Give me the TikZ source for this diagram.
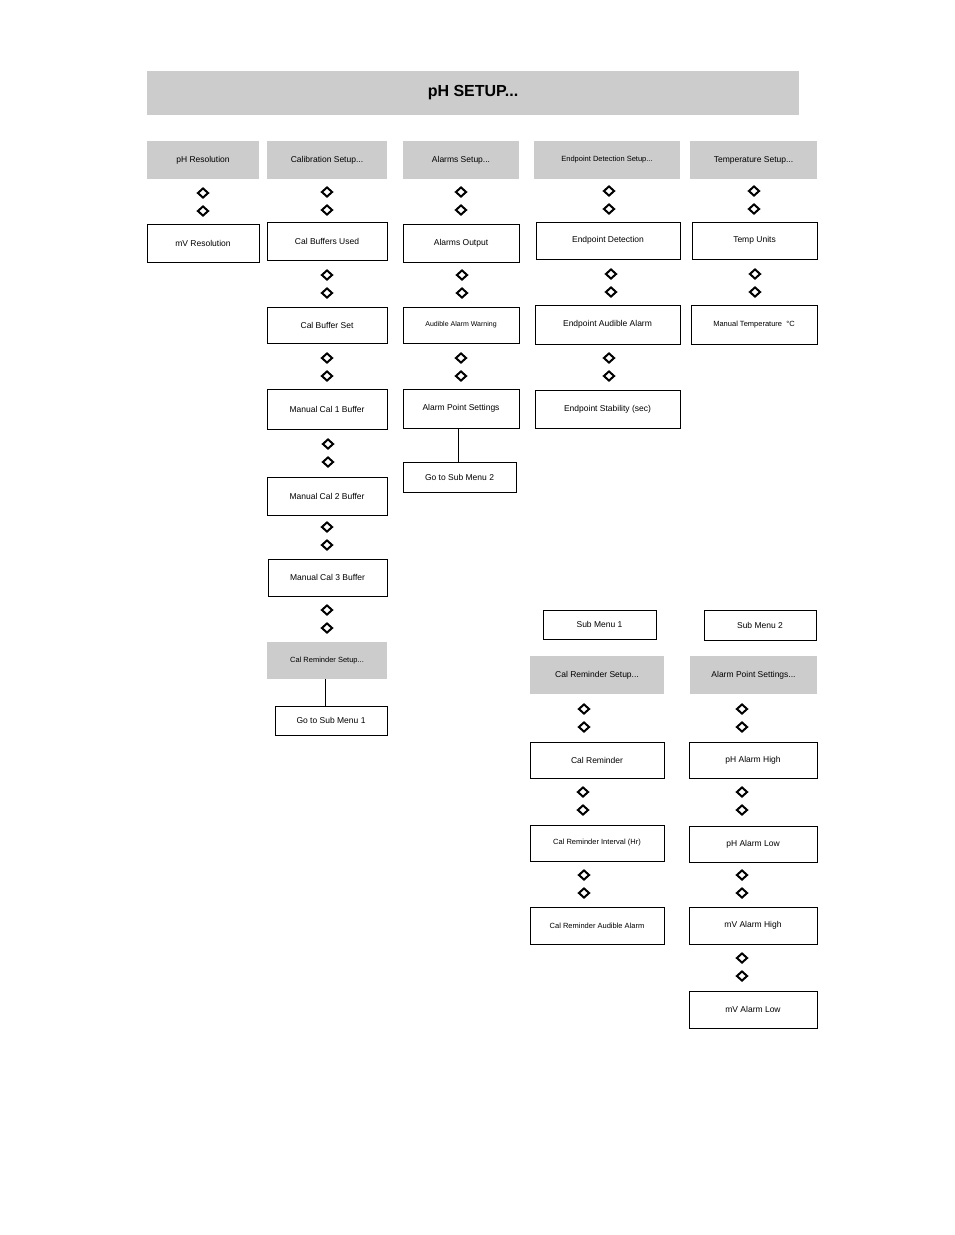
\documentclass[tikz,border=0pt]{standalone}
\usepackage{fontspec}
\setmainfont{Liberation Sans}
\usetikzlibrary{shapes.geometric}
\begin{document}
\begin{tikzpicture}[x=1pt,y=-1pt,
  bx/.style={draw=black,line width=0.8pt,font=\fontsize{8.5}{10}\selectfont,inner sep=0pt},
  gb/.style={fill=black!20,font=\fontsize{8.5}{10}\selectfont,inner sep=0pt},
  dia/.style={diamond,draw=black,line width=2pt,minimum width=11pt,minimum height=10pt,inner sep=0pt,aspect=1.2},
  ln/.style={draw=black,line width=0.8pt}]
\useasboundingbox (0,0) rectangle (954,1235);
\newcommand{\mybox}[7]{\node[#1,minimum width=#4-#2,minimum height=#5-#3] (#6) at ({(#2+#4)/2},{(#3+#5)/2}) {#7};}
\newcommand{\ud}[3]{\node[dia] (#3a) at (#1,#2-9) {}; \node[dia] (#3b) at (#1,#2+9) {};}
\node[fill=black!20,minimum width=652,minimum height=44,font=\bfseries\fontsize{16}{18}\selectfont] (hdr) at (473,93) {pH SETUP...};
\mybox{gb}{147}{141}{259}{179}{a1}{pH Resolution}
\mybox{gb}{267}{141}{387}{179}{b1}{Calibration Setup...}
\mybox{gb}{403}{141}{519}{179}{c1}{Alarms Setup...}
\mybox{gb}{534}{141}{680}{179}{d1}{\fontsize{7.5}{9}\selectfont Endpoint Detection Setup...}
\mybox{gb}{690}{141}{817}{179}{e1}{Temperature Setup...}
\mybox{bx}{147}{224}{259}{262}{a2}{mV Resolution}
\mybox{bx}{267}{222}{387}{260}{b2}{Cal Buffers Used}
\mybox{bx}{403}{224}{519}{262}{c2}{Alarms Output}
\mybox{bx}{536}{222}{680}{259}{d2}{Endpoint Detection}
\mybox{bx}{692}{222}{817}{259}{e2}{Temp Units}
\mybox{bx}{267}{307}{387}{343}{b3}{Cal Buffer Set}
\mybox{bx}{403}{307}{519}{343}{c3}{\fontsize{7}{9}\selectfont Audible Alarm Warning}
\mybox{bx}{535}{305}{680}{344}{d3}{Endpoint Audible Alarm}
\mybox{bx}{691}{305}{817}{344}{e3}{\fontsize{7.5}{9}\selectfont Manual Temperature \ °C}
\mybox{bx}{267}{389}{387}{429}{b4}{Manual Cal 1 Buffer}
\mybox{bx}{403}{389}{519}{428}{c4}{Alarm Point Settings}
\mybox{bx}{535}{390}{680}{428}{d4}{Endpoint Stability (sec)}
\mybox{bx}{403}{462}{516}{492}{c5}{Go to Sub Menu 2}
\mybox{bx}{267}{477}{387}{515}{b5}{Manual Cal 2 Buffer}
\mybox{bx}{268}{559}{387}{596}{b6}{Manual Cal 3 Buffer}
\mybox{gb}{267}{642}{387}{679}{b7}{\fontsize{7.5}{9}\selectfont Cal Reminder Setup...}
\mybox{bx}{275}{706}{387}{735}{b8}{Go to Sub Menu 1}
\mybox{bx}{543}{610}{656}{639}{s1}{Sub Menu 1}
\mybox{bx}{704}{610}{816}{640}{s2}{Sub Menu 2}
\mybox{gb}{530}{656}{664}{694}{f1}{Cal Reminder Setup...}
\mybox{gb}{690}{656}{817}{694}{g1}{Alarm Point Settings...}
\mybox{bx}{530}{742}{664}{778}{f2}{Cal Reminder}
\mybox{bx}{689}{742}{817}{778}{g2}{pH Alarm High}
\mybox{bx}{530}{825}{664}{861}{f3}{\fontsize{7.5}{9}\selectfont Cal Reminder Interval (Hr)}
\mybox{bx}{689}{826}{817}{862}{g3}{pH Alarm Low}
\mybox{bx}{530}{907}{664}{944}{f4}{\fontsize{7.5}{9}\selectfont Cal Reminder Audible Alarm}
\mybox{bx}{689}{907}{817}{944}{g4}{mV Alarm High}
\mybox{bx}{689}{991}{817}{1028}{g5}{mV Alarm Low}
\draw[ln] (c4.south -| 458,0) -- (c5.north -| 458,0);
\draw[ln] (b7.south -| 325,0) -- (b8.north -| 325,0);
\ud{203}{202}{u1}
\ud{327}{201}{u2}\ud{327}{284}{u3}\ud{327}{367}{u4}\ud{328}{453}{u5}\ud{327}{536}{u6}\ud{327}{619}{u7}
\ud{461}{201}{u8}\ud{462}{284}{u9}\ud{461}{367}{u10}
\ud{609}{200}{u11}\ud{611}{283}{u12}\ud{609}{367}{u13}
\ud{754}{200}{u14}\ud{755}{283}{u15}
\ud{584}{718}{u16}\ud{583}{801}{u17}\ud{584}{884}{u18}
\ud{742}{718}{u19}\ud{742}{801}{u20}\ud{742}{884}{u21}\ud{742}{967}{u22}
\end{tikzpicture}
\end{document}
